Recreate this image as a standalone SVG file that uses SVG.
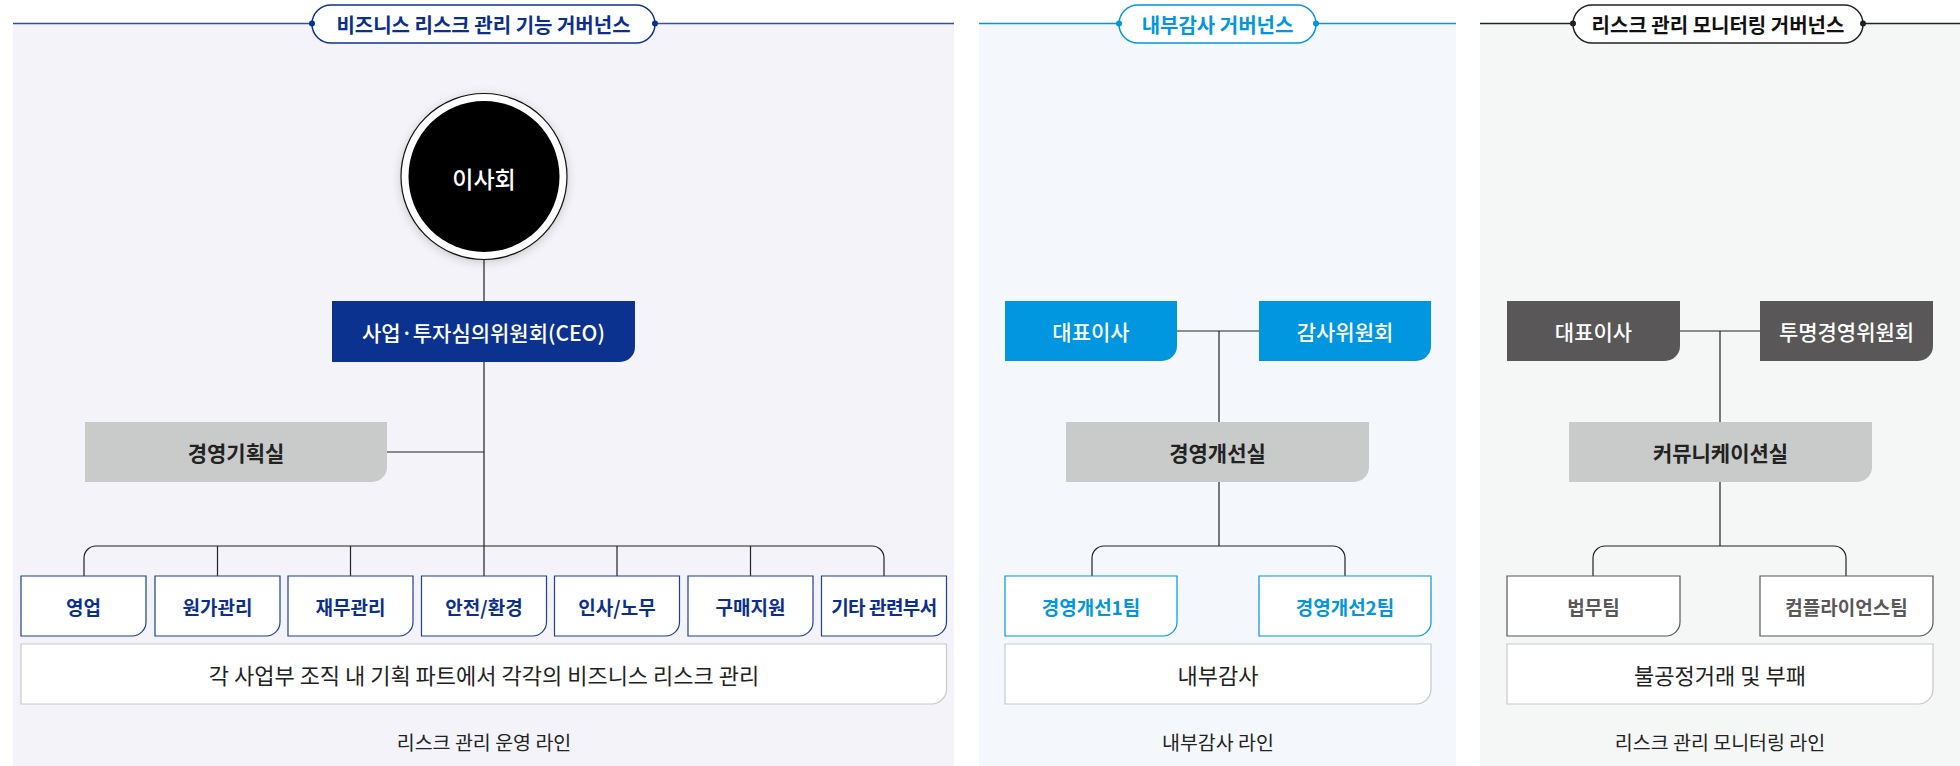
<svg xmlns="http://www.w3.org/2000/svg" width="1960" height="766" viewBox="0 0 1960 766">
<defs>
<filter id="sh" x="-30%" y="-30%" width="160%" height="160%">
<feDropShadow dx="0" dy="2" stdDeviation="5" flood-color="#000" flood-opacity="0.18"/>
</filter>
<style>
text{font-family:"Noto Sans CJK KR","Noto Sans",sans-serif;text-anchor:middle;dominant-baseline:central}
.ttl{font-size:20px;font-weight:700}
.node{font-size:21px}
.sub{font-size:19px;font-weight:700}
.wide{font-size:22px;font-weight:400;fill:#222}
.lbl{font-size:19.5px;font-weight:400;fill:#222}
.ln{fill:none;stroke:#222;stroke-width:1.2}
.wbox{fill:#fff;stroke:#c8c8c8;stroke-width:1.2}
.gbox{fill:#c9caca}
</style>
</defs>

<!-- panels -->
<rect x="13" y="23.5" width="941" height="742.5" fill="#f3f3f9"/>
<rect x="979" y="23.5" width="477" height="742.5" fill="#f4f8fc"/>
<rect x="1480" y="23.5" width="480" height="742.5" fill="#f5f6f6"/>

<!-- headers -->
<g id="header1">
<line x1="13" y1="23.5" x2="954" y2="23.5" stroke="#2f52a3" stroke-width="1.5"/>
<rect x="312" y="5" width="343" height="38" rx="19" fill="#fff" stroke="#0c3290" stroke-width="1.5"/>
<circle cx="312" cy="23.5" r="3" fill="#0c3290"/><circle cx="655" cy="23.5" r="3" fill="#0c3290"/>
<text x="483.5" y="24" class="ttl" fill="#0c2f8e">비즈니스 리스크 관리 기능 거버넌스</text>
</g>
<g id="header2">
<line x1="979" y1="23.5" x2="1456" y2="23.5" stroke="#0096e0" stroke-width="1.5"/>
<rect x="1119" y="5" width="197" height="38" rx="19" fill="#fff" stroke="#0096e0" stroke-width="1.5"/>
<circle cx="1119" cy="23.5" r="3" fill="#0096e0"/><circle cx="1316" cy="23.5" r="3" fill="#0096e0"/>
<text x="1217.5" y="24" class="ttl" fill="#0096e0">내부감사 거버넌스</text>
</g>
<g id="header3">
<line x1="1480" y1="23.5" x2="1960" y2="23.5" stroke="#222" stroke-width="1.5"/>
<rect x="1573" y="5" width="290" height="38" rx="19" fill="#fff" stroke="#222" stroke-width="1.5"/>
<circle cx="1573" cy="23.5" r="3" fill="#222"/><circle cx="1863" cy="23.5" r="3" fill="#222"/>
<text x="1718" y="24" class="ttl" fill="#111">리스크 관리 모니터링 거버넌스</text>
</g>

<!-- connectors -->
<g id="connectors" class="ln">
<line x1="484" y1="259" x2="484" y2="576"/>
<line x1="387" y1="452" x2="484" y2="452"/>
<path d="M84,576 V558 A12,12 0 0 1 96,546 H872 A12,12 0 0 1 884,558 V576"/>
<line x1="217.5" y1="546" x2="217.5" y2="576"/>
<line x1="350.5" y1="546" x2="350.5" y2="576"/>
<line x1="617" y1="546" x2="617" y2="576"/>
<line x1="750.5" y1="546" x2="750.5" y2="576"/>

<line x1="1177" y1="331" x2="1259" y2="331"/>
<line x1="1219" y1="331" x2="1219" y2="422"/>
<line x1="1219" y1="482" x2="1219" y2="546"/>
<path d="M1092,576 V558 A12,12 0 0 1 1104,546 H1333 A12,12 0 0 1 1345,558 V576"/>

<line x1="1680" y1="331" x2="1760" y2="331"/>
<line x1="1720" y1="331" x2="1720" y2="422"/>
<line x1="1720" y1="482" x2="1720" y2="546"/>
<path d="M1593,576 V558 A12,12 0 0 1 1605,546 H1834 A12,12 0 0 1 1846,558 V576"/>
</g>

<!-- panel 1 nodes -->
<g id="board">
<circle cx="484" cy="176.5" r="83" fill="#fff" stroke="#111" stroke-width="1.2" filter="url(#sh)"/>
<circle cx="484" cy="176.5" r="75.5" fill="#000"/>
<text x="484" y="178" font-size="23" font-weight="500" fill="#fff">이사회</text>
</g>
<g id="ceo">
<path d="M332,301 H635 V347 A15,15 0 0 1 620,362 H332 Z" fill="#0c3290"/>
<text x="483.5" y="331.5" class="node" font-weight="500" fill="#fff">사업·투자심의위원회(CEO)</text>
</g>
<g id="planning">
<path d="M85,422 H387 V467 A15,15 0 0 1 372,482 H85 Z" class="gbox"/>
<text x="236" y="452" class="node" font-weight="700" fill="#222">경영기획실</text>
</g>
<g id="d1"><path d="M21,576 H146 V622 A14,14 0 0 1 132,636 H21 Z" fill="#fff" stroke="#1f3f96" stroke-width="1.2"/><text x="83.5" y="606" class="sub" fill="#0c2f8e">영업</text></g>
<g id="d2"><path d="M155,576 H280 V622 A14,14 0 0 1 266,636 H155 Z" fill="#fff" stroke="#1f3f96" stroke-width="1.2"/><text x="217.5" y="606" class="sub" fill="#0c2f8e">원가관리</text></g>
<g id="d3"><path d="M288,576 H413 V622 A14,14 0 0 1 399,636 H288 Z" fill="#fff" stroke="#1f3f96" stroke-width="1.2"/><text x="350.5" y="606" class="sub" fill="#0c2f8e">재무관리</text></g>
<g id="d4"><path d="M421.5,576 H546.5 V622 A14,14 0 0 1 532.5,636 H421.5 Z" fill="#fff" stroke="#1f3f96" stroke-width="1.2"/><text x="484" y="606" class="sub" fill="#0c2f8e">안전/환경</text></g>
<g id="d5"><path d="M554.5,576 H679.5 V622 A14,14 0 0 1 665.5,636 H554.5 Z" fill="#fff" stroke="#1f3f96" stroke-width="1.2"/><text x="617" y="606" class="sub" fill="#0c2f8e">인사/노무</text></g>
<g id="d6"><path d="M688,576 H813 V622 A14,14 0 0 1 799,636 H688 Z" fill="#fff" stroke="#1f3f96" stroke-width="1.2"/><text x="750.5" y="606" class="sub" fill="#0c2f8e">구매지원</text></g>
<g id="d7"><path d="M821.5,576 H946.5 V622 A14,14 0 0 1 932.5,636 H821.5 Z" fill="#fff" stroke="#1f3f96" stroke-width="1.2"/><text x="884" y="606" class="sub" fill="#0c2f8e" letter-spacing="-0.5">기타 관련부서</text></g>
<g id="desc1">
<path d="M21,644 H946.5 V689 A15,15 0 0 1 931.5,704 H21 Z" class="wbox"/>
<text x="484" y="674" class="wide">각 사업부 조직 내 기획 파트에서 각각의 비즈니스 리스크 관리</text>
</g>
<text id="label1" x="484" y="741" class="lbl">리스크 관리 운영 라인</text>

<!-- panel 2 nodes -->
<g id="ceo2"><path d="M1005,301 H1177 V346 A15,15 0 0 1 1162,361 H1005 Z" fill="#0096e0"/><text x="1091" y="331" class="node" font-weight="500" fill="#fff">대표이사</text></g>
<g id="audit"><path d="M1259,301 H1431 V346 A15,15 0 0 1 1416,361 H1259 Z" fill="#0096e0"/><text x="1345" y="331" class="node" font-weight="500" fill="#fff">감사위원회</text></g>
<g id="improve"><path d="M1066,422 H1369 V467 A15,15 0 0 1 1354,482 H1066 Z" class="gbox"/><text x="1217.5" y="452" class="node" font-weight="700" fill="#222">경영개선실</text></g>
<g id="team1"><path d="M1005,576 H1177 V622 A14,14 0 0 1 1163,636 H1005 Z" fill="#fff" stroke="#0096e0" stroke-width="1.2"/><text x="1091" y="606" class="sub" fill="#0096e0">경영개선1팀</text></g>
<g id="team2"><path d="M1259,576 H1431 V622 A14,14 0 0 1 1417,636 H1259 Z" fill="#fff" stroke="#0096e0" stroke-width="1.2"/><text x="1345" y="606" class="sub" fill="#0096e0">경영개선2팀</text></g>
<g id="desc2"><path d="M1005,644 H1431 V689 A15,15 0 0 1 1416,704 H1005 Z" class="wbox"/><text x="1218" y="674" class="wide">내부감사</text></g>
<text id="label2" x="1218" y="741" class="lbl">내부감사 라인</text>

<!-- panel 3 nodes -->
<g id="ceo3"><path d="M1507,301 H1680 V346 A15,15 0 0 1 1665,361 H1507 Z" fill="#595757"/><text x="1593.5" y="331" class="node" font-weight="500" fill="#fff">대표이사</text></g>
<g id="transp"><path d="M1760,301 H1933 V346 A15,15 0 0 1 1918,361 H1760 Z" fill="#595757"/><text x="1846.5" y="331" class="node" font-weight="500" fill="#fff">투명경영위원회</text></g>
<g id="comm"><path d="M1569,422 H1872 V467 A15,15 0 0 1 1857,482 H1569 Z" class="gbox"/><text x="1720.5" y="452" class="node" font-weight="700" fill="#222">커뮤니케이션실</text></g>
<g id="legal"><path d="M1507,576 H1680 V622 A14,14 0 0 1 1666,636 H1507 Z" fill="#fff" stroke="#595757" stroke-width="1.2"/><text x="1593.5" y="606" class="sub" font-weight="500" fill="#595757">법무팀</text></g>
<g id="compl"><path d="M1760,576 H1933 V622 A14,14 0 0 1 1919,636 H1760 Z" fill="#fff" stroke="#595757" stroke-width="1.2"/><text x="1846.5" y="606" class="sub" font-weight="500" fill="#595757">컴플라이언스팀</text></g>
<g id="desc3"><path d="M1507,644 H1933 V689 A15,15 0 0 1 1918,704 H1507 Z" class="wbox"/><text x="1720" y="674" class="wide">불공정거래 및 부패</text></g>
<text id="label3" x="1720" y="741" class="lbl">리스크 관리 모니터링 라인</text>
</svg>
